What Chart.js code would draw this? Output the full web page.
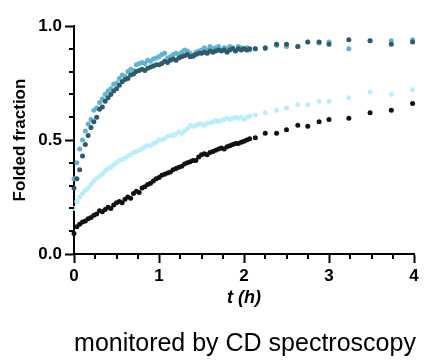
<!DOCTYPE html>
<html>
<head>
<meta charset="utf-8">
<script src="https://cdn.jsdelivr.net/npm/chart.js@4.4.1/dist/chart.umd.min.js"></script>
<style>
    html, body { margin: 0; padding: 0; background: #fff; }
    #wrap { position: relative; width: 428px; height: 363px; }
    #caption {
        position: absolute; left: 45px; width: 400px; top: 327px;
        text-align: center; font: 25px "Liberation Sans", Arial, sans-serif;
        line-height: 30px; color: #000; white-space: nowrap;
    }
</style>
</head>
<body>
<div id="wrap">
    <canvas id="foldChart" width="428" height="363"></canvas>
    <div id="caption">monitored by CD spectroscopy</div>
</div>
<script>
// sampling times (minutes) - every 2 min up to ~2 h, then sparser
const minutes = [0,2,4,6,8,10,12,14,16,18,20,22,24,26,28,30,32,34,36,38,40,42,44,46,48,50,52,54,56,58,60,62,64,66,68,70,72,74,76,78,80,82,84,86,88,90,92,94,96,98,100,102,104,106,108,110,112,114,116,118,120,122,124,
    128,135,143,150,158,165,173,180,194,209,224,239];

// folded fraction per condition
const blackSeries = [0.09,0.12,0.13,0.14,0.145,0.155,0.16,0.17,0.175,0.19,
    0.185,0.195,0.205,0.2,0.215,0.225,0.23,0.225,0.24,0.25,
    0.245,0.265,0.275,0.27,0.29,0.295,0.305,0.31,0.32,0.33,
    0.335,0.345,0.35,0.355,0.36,0.37,0.375,0.38,0.385,0.395,
    0.40,0.405,0.41,0.41,0.425,0.435,0.44,0.435,0.445,0.45,
    0.455,0.46,0.465,0.46,0.47,0.475,0.48,0.485,0.485,0.49,
    0.495,0.50,0.505,
    0.51,0.53,0.53,0.545,0.565,0.56,0.58,0.59,0.595,0.62,0.63,0.66];

const lightSeries = [0.20,0.23,0.25,0.265,0.28,0.29,0.305,0.32,0.33,0.34,
    0.35,0.365,0.375,0.38,0.39,0.40,0.41,0.415,0.42,0.43,
    0.435,0.445,0.45,0.455,0.46,0.47,0.475,0.475,0.485,0.49,
    0.50,0.50,0.505,0.515,0.52,0.52,0.525,0.535,0.53,0.54,
    0.55,0.565,0.56,0.565,0.57,0.57,0.565,0.575,0.575,0.58,
    0.585,0.58,0.585,0.59,0.595,0.59,0.595,0.60,0.595,0.60,
    0.59,0.60,0.605,
    0.61,0.62,0.63,0.64,0.655,0.655,0.67,0.67,0.685,0.71,0.70,0.72];

const darkSeries = [0.29,0.33,0.37,0.43,0.48,0.52,0.555,0.58,0.60,0.635,
    0.645,0.67,0.685,0.70,0.715,0.725,0.74,0.755,0.765,0.77,
    0.785,0.79,0.80,0.805,0.81,0.805,0.815,0.82,0.825,0.83,
    0.83,0.835,0.845,0.84,0.85,0.855,0.85,0.86,0.865,0.87,
    0.875,0.865,0.87,0.875,0.88,0.88,0.885,0.88,0.89,0.885,
    0.89,0.895,0.89,0.895,0.885,0.895,0.90,0.89,0.90,0.895,
    0.90,0.895,0.90,
    0.90,0.905,0.92,0.92,0.91,0.93,0.93,0.92,0.94,0.935,0.92,0.93];

const blueSeries = [0.33,0.40,0.46,0.50,0.54,0.57,0.59,0.63,0.64,0.665,
    0.68,0.70,0.715,0.725,0.745,0.75,0.77,0.785,0.78,0.80,
    0.81,0.805,0.83,0.835,0.84,0.835,0.85,0.845,0.855,0.86,
    0.865,0.875,0.88,0.86,0.865,0.875,0.88,0.875,0.885,0.895,
    0.89,0.88,0.865,0.885,0.89,0.895,0.905,0.895,0.91,0.90,
    0.905,0.91,0.895,0.905,0.90,0.91,0.905,0.895,0.91,0.905,
    0.90,0.905,0.895,
    0.90,0.90,0.915,0.91,0.91,0.93,0.925,0.93,0.90,0.935,0.935,0.94];

const xMajor = [0, 1, 2, 3, 4];
const yMajor = [0, 0.5, 1];

const FONT = '"Liberation Sans", Arial, sans-serif';

function toPoints(values) {
    return minutes.map((m, i) => ({ x: m / 60, y: values[i] }));
}

function isMajor(list, v) {
    return list.some(m => Math.abs(m - v) < 1e-6);
}

// short minor ticks, drawn from the scales' own pixel mapping
const minorTicks = {
    id: 'minorTicks',
    afterDraw(chart) {
        const ctx = chart.ctx;
        const xs = chart.scales.x, ys = chart.scales.y;
        const area = chart.chartArea;
        ctx.save();
        ctx.strokeStyle = '#000';
        ctx.lineWidth = 2;
        ctx.beginPath();
        xs.ticks.forEach(t => {
            if (isMajor(xMajor, t.value)) return;
            const px = Math.round(xs.getPixelForValue(t.value));
            ctx.moveTo(px, area.bottom);
            ctx.lineTo(px, area.bottom + 5);
        });
        ys.ticks.forEach(t => {
            if (isMajor(yMajor, t.value)) return;
            const py = Math.round(ys.getPixelForValue(t.value));
            ctx.moveTo(area.left, py);
            ctx.lineTo(area.left - 5, py);
        });
        ctx.stroke();
        ctx.restore();
    }
};

function makeSet(label, values, color) {
    return {
        label: label,
        data: toPoints(values),
        backgroundColor: color,
        borderWidth: 0,
        pointRadius: 2.5,
        pointHoverRadius: 2.5,
        clip: false
    };
}

new Chart(document.getElementById('foldChart'), {
    type: 'scatter',
    data: {
        datasets: [
            makeSet('black', blackSeries, '#111111'),
            makeSet('light', lightSeries, '#b9effc'),
            makeSet('dark', darkSeries, '#2e5a6b'),
            makeSet('blue', blueSeries, '#5cb5d2')
        ]
    },
    options: {
        responsive: false,
        animation: false,
        layout: { padding: { left: 10, top: 26, right: 14, bottom: 54 } },
        plugins: { legend: { display: false }, tooltip: { enabled: false } },
        scales: {
            x: {
                type: 'linear', min: 0, max: 4,
                afterFit(scale) { scale.height = 55; },
                border: { display: true, color: '#000', width: 2 },
                grid: {
                    drawOnChartArea: false, tickLength: 9, tickWidth: 2,
                    tickColor: c => isMajor(xMajor, c.tick.value) ? '#000' : 'rgba(0,0,0,0)'
                },
                ticks: {
                    stepSize: 0.25, autoSkip: false, maxRotation: 0, padding: 3,
                    color: '#000', font: { family: FONT, size: 17, weight: 'bold' },
                    callback: v => isMajor(xMajor, v) ? String(Math.round(v)) : ''
                },
                title: {
                    display: true, text: 't (h)', color: '#000', padding: 0,
                    font: { family: FONT, size: 18, weight: 'bold', style: 'italic' }
                }
            },
            y: {
                type: 'linear', min: 0, max: 1,
                afterFit(scale) { scale.width = 64; },
                border: { display: true, color: '#000', width: 2 },
                grid: {
                    drawOnChartArea: false, tickLength: 9, tickWidth: 2,
                    tickColor: c => isMajor(yMajor, c.tick.value) ? '#000' : 'rgba(0,0,0,0)'
                },
                ticks: {
                    stepSize: 0.1, autoSkip: false, padding: 3,
                    color: '#000', font: { family: FONT, size: 17, weight: 'bold' },
                    callback: v => isMajor(yMajor, v) ? v.toFixed(1) : ''
                },
                title: {
                    display: true, text: 'Folded fraction', color: '#000', padding: 0,
                    font: { family: FONT, size: 17, weight: 'bold' }
                }
            }
        }
    },
    plugins: [minorTicks]
});
</script>
</body>
</html>
